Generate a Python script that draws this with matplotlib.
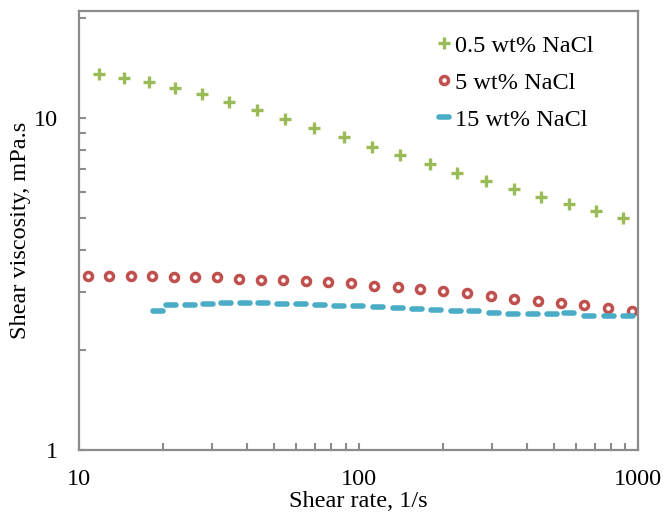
import matplotlib
matplotlib.use("Agg")
import matplotlib.pyplot as plt
from matplotlib.markers import MarkerStyle
from matplotlib.ticker import LogLocator, NullFormatter, FixedLocator, FixedFormatter

plt.rcParams['font.family'] = ['Liberation Serif', 'DejaVu Serif']

# Shear rate (1/s) and viscosity (mPa.s) for each brine concentration
rate_05 = [11.8, 14.5, 17.8, 22.1, 27.6, 34.5, 43.4, 54.7, 69.5, 88.4,
           112, 141, 180, 226, 285, 360, 449, 566, 707, 884]
visc_05 = [13.6, 13.2, 12.8, 12.3, 11.8, 11.2, 10.6, 9.93, 9.33, 8.77,
           8.18, 7.74, 7.27, 6.84, 6.47, 6.12, 5.79, 5.52, 5.26, 5.01]

rate_5 = [10.8, 12.8, 15.3, 18.3, 21.8, 26.1, 31.2, 37.5, 44.9, 53.8,
          64.9, 78.1, 94.0, 114, 138, 166, 201, 244, 297, 359,
          437, 530, 642, 779, 952]
visc_5 = [3.34, 3.35, 3.35, 3.35, 3.33, 3.31, 3.31, 3.27, 3.26, 3.25,
          3.22, 3.20, 3.18, 3.12, 3.09, 3.05, 3.01, 2.97, 2.91, 2.85,
          2.81, 2.77, 2.74, 2.67, 2.63]

rate_15 = [19.15, 21.4, 24.9, 28.9, 33.6, 39.1, 45.7, 53.3, 62.1, 72.9,
           85.5, 99.7, 117, 138, 162, 189, 223, 260, 305, 358,
           420, 491, 567, 669, 785, 919]
visc_15 = [2.615, 2.73, 2.73, 2.757, 2.763, 2.763, 2.763, 2.757, 2.744, 2.739,
           2.72, 2.713, 2.688, 2.683, 2.665, 2.639, 2.615, 2.615, 2.579, 2.574,
           2.574, 2.574, 2.579, 2.539, 2.526, 2.526]

labels = ['0.5 wt% NaCl', '5 wt% NaCl', '15 wt% NaCl']
x_ticks = [10, 100, 1000]
x_ticklabels = ['10', '100', '1000']
y_ticks = [1, 10]
y_ticklabels = ['1', '10']

green = '#9BBB59'
red = '#C0504D'
blue = '#4BACC6'
frame = '#8C8C8C'
fs = 17.5

fig = plt.figure(figsize=(6.63, 5.12), dpi=100)
ax = fig.add_axes([79 / 663, 1 - 450 / 512, (638 - 79) / 663, (450 - 11) / 512])

ax.plot(rate_05, visc_05, linestyle='none', marker='+', markersize=8.5,
        markeredgewidth=2.4, color=green, label=labels[0])
ax.plot(rate_5, visc_5, linestyle='none', marker='o', markersize=5.8,
        markeredgewidth=2.5, markerfacecolor='white', markeredgecolor=red,
        label=labels[1])
ax.plot(rate_15, visc_15, linestyle='none',
        marker=MarkerStyle('_', capstyle='round'), markersize=7.5,
        markeredgewidth=4.0, color=blue, label=labels[2])

ax.set_xscale('log')
ax.set_yscale('log')
ax.set_xlim(10, 1000)
ax.set_ylim(1, 21)

ax.xaxis.set_major_locator(FixedLocator(x_ticks))
ax.xaxis.set_major_formatter(FixedFormatter(x_ticklabels))
ax.yaxis.set_major_locator(FixedLocator(y_ticks))
ax.yaxis.set_major_formatter(FixedFormatter(y_ticklabels))
ax.xaxis.set_minor_locator(LogLocator(base=10, subs=range(2, 10)))
ax.yaxis.set_minor_locator(LogLocator(base=10, subs=range(2, 10)))
ax.xaxis.set_minor_formatter(NullFormatter())
ax.yaxis.set_minor_formatter(NullFormatter())

ax.tick_params(which='both', direction='in', color=frame, width=1.5,
               labelsize=fs, top=False, right=False, length=5)
ax.tick_params(axis='x', pad=14)
ax.tick_params(axis='y', pad=15)

for s in ax.spines.values():
    s.set_color(frame)
    s.set_linewidth(1.6)

ax.set_xlabel('Shear rate, 1/s', fontsize=fs, labelpad=0.5)
ax.set_ylabel('Shear viscosity, mPa.s', fontsize=fs, labelpad=2)

leg = ax.legend(loc='upper right', frameon=False, fontsize=fs,
                handlelength=0.6, handletextpad=0.15, labelspacing=0.62,
                borderaxespad=0.3, bbox_to_anchor=(0.95, 0.985))

fig.savefig('out.png', dpi=100)
